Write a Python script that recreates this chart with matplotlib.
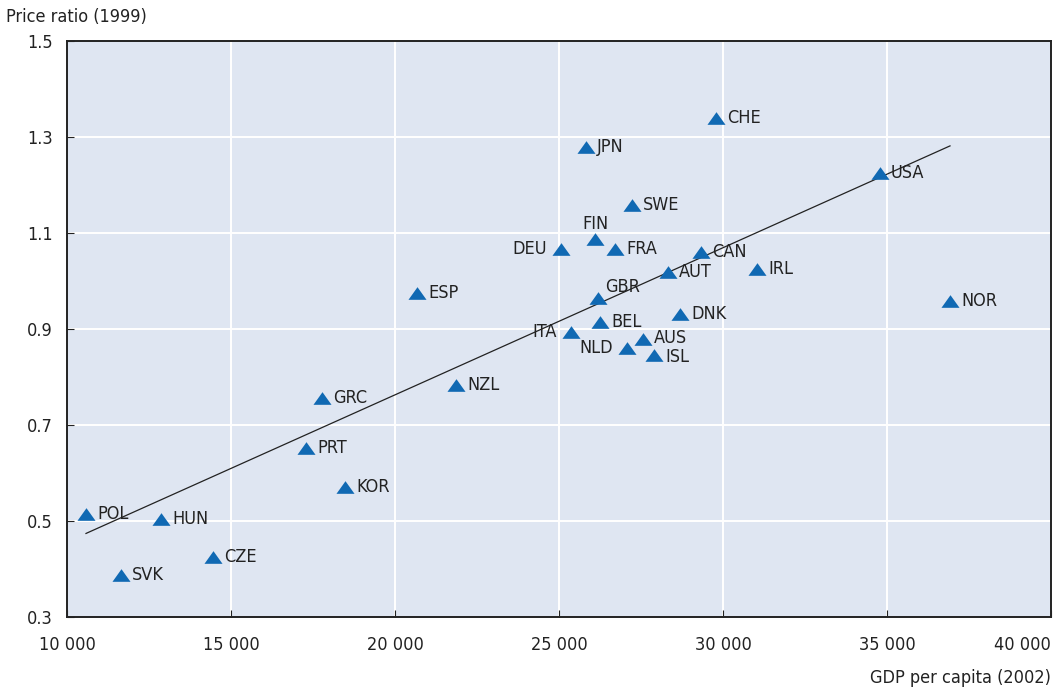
import numpy as np
import matplotlib.pyplot as plt
from matplotlib.path import Path

countries = ["POL", "SVK", "HUN", "CZE", "PRT", "GRC", "KOR", "NZL", "ESP", "DEU",
             "ITA", "JPN", "FIN", "GBR", "BEL", "NLD", "SWE", "FRA", "AUS", "ISL",
             "AUT", "DNK", "CAN", "CHE", "IRL", "USA", "NOR"]
gdp = [10579, 11646, 12866, 14451, 17287, 17774, 18476, 21860, 20671, 25061,
       25366, 25823, 26098, 26189, 26250, 27073, 27226, 26707, 27561, 27896,
       28323, 28689, 29329, 29787, 31037, 34787, 36921]
price = [0.515, 0.387, 0.504, 0.425, 0.652, 0.756, 0.571, 0.783, 0.975, 1.067,
         0.894, 1.279, 1.0875, 0.965, 0.915, 0.860, 1.158, 1.067, 0.879, 0.846,
         1.019, 0.931, 1.060, 1.340, 1.025, 1.225, 0.958]

# label placement: offset in points
left_labels = {"DEU", "ITA", "NLD"}
special = {"FIN": (0, 11, "center"), "GBR": (5, 8, "left"),
           "AUS": (8, 1, "left"), "ISL": (8, -1.5, "left")}

plt.rcParams['font.family'] = ['DejaVu Sans']
plt.rcParams['font.stretch'] = 'condensed'

fig = plt.figure(figsize=(10.58, 6.87), dpi=100)
ax = fig.add_axes([67 / 1058, 1 - 617 / 687, (1051 - 67) / 1058, (617 - 41) / 687])
ax.set_facecolor("#dfe6f2")

ax.set_xlim(10000, 40000)
ax.set_ylim(0.3, 1.5)
ax.set_xticks(np.arange(10000, 40001, 5000))
ax.set_yticks([0.3, 0.5, 0.7, 0.9, 1.1, 1.3, 1.5])
ax.set_xticklabels([f"{v:,}".replace(",", " ") for v in range(10000, 40001, 5000)])
ax.set_yticklabels(["0.3", "0.5", "0.7", "0.9", "1.1", "1.3", "1.5"])
ax.grid(color="white", linewidth=1.4)
ax.set_axisbelow(True)
ax.tick_params(direction="in", length=5, width=0.8, colors="#222222",
               labelsize=13, labelcolor="#222222")
ax.tick_params(axis="x", pad=14)
ax.tick_params(axis="y", pad=10)
for s in ax.spines.values():
    s.set_color("#222222")
    s.set_linewidth(1.4)
ax.get_xticklabels()[-1].set_ha("right")

# trend line
coef = np.polyfit(gdp, price, 1)
xs = np.array([min(gdp), max(gdp)])
ax.plot(xs, np.polyval(coef, xs), color="#222222", linewidth=0.9, zorder=2)

tri = Path([(-1, -0.7), (1, -0.7), (0, 0.7), (-1, -0.7)],
           [Path.MOVETO, Path.LINETO, Path.LINETO, Path.CLOSEPOLY])
ax.plot(gdp, price, linestyle="none", marker=tri, markersize=13,
        color="#1069b3", markeredgewidth=0, zorder=3)

for c, x, y in zip(countries, gdp, price):
    if c in special:
        dx, dy, ha = special[c]
    elif c in left_labels:
        dx, dy, ha = -10, 0, "right"
    else:
        dx, dy, ha = 8, 0, "left"
    ax.annotate(c, (x, y), xytext=(dx, dy), textcoords="offset points",
                ha=ha, va="center", fontsize=13, color="#222222", zorder=4)

fig.text(6 / 1058, 1 - 17 / 687, "Price ratio (1999)", fontsize=13,
         color="#222222", ha="left", va="center")
fig.text(1051 / 1058, 1 - 678 / 687, "GDP per capita (2002)", fontsize=13,
         color="#222222", ha="right", va="center")

fig.savefig("out.png", dpi=100)
